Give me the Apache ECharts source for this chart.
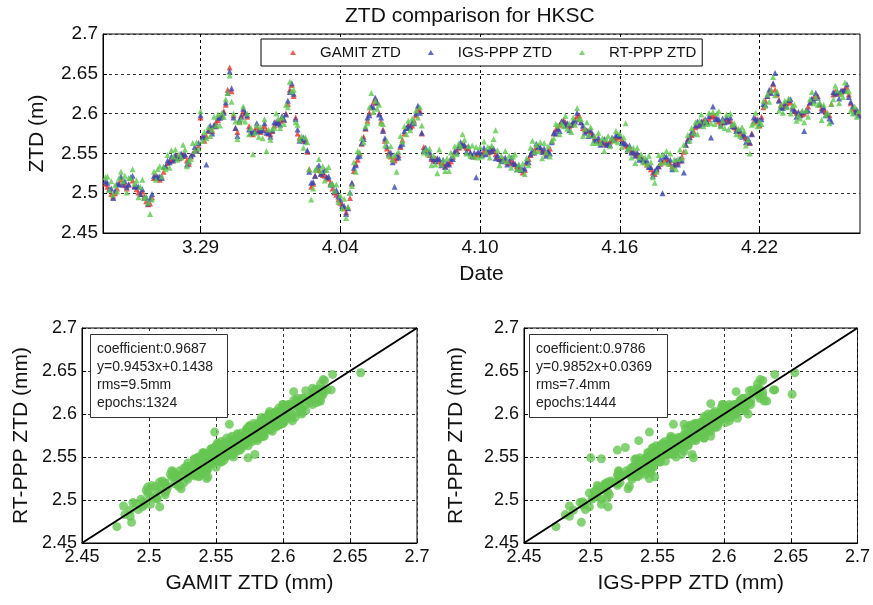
<!DOCTYPE html>
<html><head><meta charset="utf-8">
<script src="https://cdn.jsdelivr.net/npm/echarts@6/dist/echarts.min.js"></script>
<style>html,body{margin:0;padding:0;background:#fff}#c{width:873px;height:605px}</style>
</head><body><div id="c"></div>
<script>
// Epoch grid of the time series: day of year, 2-hour sampling
const epochStart = 83 + 22 / 24;
const epochStep = 1 / 12;

const gamitZTD = [2.512,
2.508,2.505,2.499,2.496,2.500,2.506,2.512,2.517,2.514,2.510,2.506,2.511,
2.519,2.516,2.509,2.505,2.501,2.499,2.502,2.496,2.490,2.486,2.487,2.495,
2.519,2.523,2.519,2.517,2.521,2.527,2.534,2.538,2.540,2.541,2.543,2.546,
2.547,2.544,2.546,2.549,2.547,2.541,2.537,2.546,2.550,2.553,2.555,2.560,
2.595,2.572,2.566,2.572,2.578,2.581,2.578,2.584,2.589,2.592,2.595,2.598,
2.603,2.611,2.630,2.658,2.628,2.598,2.582,2.577,2.590,2.598,2.603,2.600,
2.596,2.584,2.575,2.574,2.580,2.583,2.579,2.577,2.581,2.584,2.579,2.575,
2.574,2.578,2.585,2.590,2.588,2.591,2.594,2.592,2.600,2.612,2.630,2.636,
2.622,2.595,2.575,2.570,2.567,2.566,2.568,2.552,2.530,2.508,2.512,2.522,
2.531,2.529,2.525,2.523,2.522,2.520,2.518,2.513,2.506,2.501,2.498,2.492,
2.488,2.486,2.481,2.476,2.482,2.494,2.512,2.528,2.537,2.542,2.550,2.562,
2.571,2.581,2.591,2.601,2.608,2.614,2.618,2.614,2.600,2.590,2.580,2.566,
2.556,2.551,2.546,2.543,2.541,2.544,2.548,2.558,2.567,2.575,2.582,2.586,
2.584,2.585,2.591,2.598,2.606,2.604,2.575,2.558,2.554,2.552,2.548,2.543,
2.541,2.544,2.543,2.540,2.538,2.537,2.534,2.536,2.538,2.540,2.546,2.552,
2.554,2.557,2.560,2.562,2.559,2.557,2.556,2.550,2.547,2.546,2.549,2.549,
2.548,2.550,2.552,2.553,2.551,2.552,2.556,2.554,2.549,2.545,2.543,2.542,
2.543,2.541,2.539,2.538,2.540,2.539,2.536,2.534,2.532,2.530,2.526,2.529,
2.538,2.543,2.548,2.551,2.554,2.557,2.559,2.556,2.554,2.552,2.550,2.552,
2.556,2.566,2.575,2.580,2.582,2.586,2.590,2.592,2.589,2.586,2.584,2.586,
2.588,2.593,2.597,2.598,2.589,2.582,2.580,2.578,2.578,2.577,2.574,2.570,
2.567,2.566,2.564,2.562,2.563,2.563,2.561,2.565,2.567,2.568,2.569,2.571,
2.571,2.568,2.563,2.560,2.559,2.556,2.553,2.551,2.550,2.548,2.546,2.544,
2.543,2.539,2.536,2.534,2.530,2.526,2.524,2.529,2.534,2.537,2.539,2.542,
2.543,2.541,2.537,2.534,2.535,2.537,2.539,2.541,2.546,2.552,2.561,2.568,
2.571,2.573,2.578,2.583,2.585,2.587,2.589,2.591,2.590,2.590,2.593,2.596,
2.598,2.597,2.593,2.590,2.588,2.589,2.590,2.593,2.592,2.591,2.587,2.583,
2.581,2.578,2.575,2.573,2.572,2.569,2.566,2.563,2.575,2.590,2.594,2.590,
2.585,2.596,2.608,2.616,2.622,2.627,2.630,2.637,2.630,2.624,2.617,2.611,
2.609,2.610,2.613,2.616,2.614,2.609,2.604,2.601,2.600,2.600,2.599,2.600,
2.603,2.609,2.614,2.617,2.620,2.622,2.622,2.611,2.607,2.605,2.602,2.599,
2.598,2.612,2.624,2.628,2.626,2.625,2.627,2.629,2.631,2.633,2.624,2.613,
2.606,2.604,2.602,2.600];

const igsZTD = [2.515,
2.513,2.505,2.506,2.494,2.503,2.512,2.511,2.521,2.511,2.515,2.508,2.511,
2.520,2.522,2.508,2.509,2.508,2.499,2.505,2.494,2.495,2.487,2.493,2.499,
2.522,2.520,2.521,2.521,2.519,2.533,2.534,2.541,2.539,2.546,2.541,2.548,
2.544,2.545,2.550,2.547,2.549,2.536,2.540,2.547,2.549,2.558,2.553,2.563,
2.598,2.570,2.571,2.536,2.579,2.585,2.575,2.586,2.584,2.595,2.595,2.596,
2.601,2.614,2.626,2.653,2.632,2.595,2.582,2.572,2.592,2.596,2.606,2.601,
2.598,2.580,2.576,2.577,2.577,2.588,2.578,2.579,2.579,2.588,2.576,2.576,
2.571,2.579,2.589,2.588,2.590,2.586,2.597,2.593,2.599,2.616,2.627,2.638,
2.625,2.593,2.580,2.566,2.568,2.570,2.565,2.554,2.527,2.513,2.514,2.522,
2.532,2.535,2.524,2.527,2.529,2.520,2.521,2.511,2.511,2.502,2.504,2.496,
2.492,2.484,2.484,2.474,2.481,2.501,2.513,2.532,2.535,2.546,2.547,2.563,
2.568,2.582,2.595,2.598,2.609,2.608,2.620,2.614,2.599,2.595,2.578,2.569,
2.559,2.549,2.551,2.539,2.508,2.548,2.545,2.560,2.562,2.578,2.582,2.584,
2.583,2.589,2.588,2.600,2.610,2.601,2.576,2.554,2.557,2.551,2.552,2.545,
2.543,2.540,2.544,2.543,2.535,2.542,2.533,2.538,2.536,2.544,2.543,2.553,
2.551,2.558,2.564,2.560,2.561,2.552,2.559,2.551,2.546,2.551,2.520,2.552,
2.551,2.548,2.557,2.549,2.552,2.556,2.553,2.556,2.544,2.548,2.543,2.540,
2.542,2.545,2.536,2.540,2.545,2.537,2.537,2.530,2.535,2.529,2.530,2.531,
2.540,2.539,2.549,2.554,2.551,2.562,2.558,2.558,2.552,2.556,2.547,2.553,
2.550,2.564,2.576,2.575,2.581,2.578,2.590,2.590,2.585,2.588,2.579,2.586,
2.590,2.590,2.601,2.593,2.589,2.585,2.576,2.579,2.572,2.579,2.573,2.567,
2.566,2.570,2.561,2.564,2.568,2.561,2.562,2.561,2.570,2.567,2.573,2.573,
2.572,2.563,2.563,2.562,2.555,2.560,2.551,2.552,2.547,2.551,2.542,2.544,
2.541,2.541,2.541,2.533,2.533,2.522,2.528,2.531,2.534,2.543,2.500,2.546,
2.546,2.539,2.542,2.530,2.536,2.541,2.536,2.543,2.541,2.526,2.561,2.566,
2.570,2.577,2.575,2.585,2.590,2.585,2.590,2.587,2.593,2.589,2.597,2.570,
2.609,2.593,2.594,2.593,2.585,2.594,2.589,2.595,2.590,2.595,2.584,2.584,
2.578,2.579,2.579,2.571,2.574,2.564,2.569,2.564,2.574,2.595,2.592,2.593,
2.587,2.593,2.612,2.611,2.622,2.630,2.626,2.638,2.651,2.626,2.616,2.608,
2.607,2.613,2.609,2.617,2.618,2.606,2.604,2.596,2.602,2.598,2.602,2.578,
2.604,2.604,2.614,2.619,2.616,2.626,2.620,2.612,2.604,2.608,2.598,2.599,
2.594,2.590,2.627,2.625,2.627,2.619,2.629,2.629,2.629,2.637,2.621,2.615,
2.609,2.601,2.605,2.598];

const rtZTD = [2.520,
2.521,2.504,2.515,2.498,2.510,2.502,2.519,2.527,2.515,2.522,2.501,2.519,
2.519,2.530,2.512,2.516,2.495,2.508,2.517,2.494,2.496,2.488,2.474,2.492,
2.527,2.517,2.530,2.534,2.521,2.533,2.530,2.548,2.532,2.554,2.546,2.555,
2.542,2.549,2.545,2.561,2.555,2.534,2.540,2.543,2.563,2.553,2.564,2.556,
2.603,2.566,2.577,2.569,2.583,2.572,2.580,2.596,2.585,2.599,2.585,2.601,
2.596,2.618,2.626,2.648,2.615,2.600,2.590,2.568,2.589,2.593,2.609,2.590,
2.600,2.574,2.582,2.549,2.576,2.585,2.571,2.583,2.569,2.593,2.553,2.580,
2.567,2.581,2.582,2.600,2.594,2.582,2.595,2.587,2.611,2.608,2.640,2.628,
2.630,2.589,2.586,2.567,2.572,2.557,2.570,2.564,2.530,2.492,2.506,2.529,
2.531,2.543,2.528,2.534,2.516,2.529,2.533,2.511,2.512,2.503,2.511,2.489,
2.497,2.481,2.493,2.469,2.483,2.501,2.509,2.539,2.527,2.553,2.551,2.569,
2.564,2.584,2.588,2.608,2.626,2.602,2.616,2.606,2.611,2.588,2.587,2.560,
2.566,2.547,2.559,2.542,2.548,2.527,2.552,2.572,2.565,2.584,2.574,2.591,
2.579,2.594,2.589,2.604,2.595,2.608,2.585,2.551,2.555,2.549,2.556,2.535,
2.547,2.536,2.525,2.555,2.536,2.541,2.528,2.544,2.528,2.551,2.547,2.559,
2.549,2.562,2.559,2.574,2.567,2.550,2.559,2.547,2.560,2.546,2.558,2.545,
2.558,2.546,2.565,2.552,2.558,2.545,2.560,2.568,2.579,2.554,2.535,2.547,
2.541,2.553,2.540,2.547,2.532,2.546,2.549,2.530,2.536,2.530,2.537,2.524,
2.544,2.535,2.557,2.566,2.552,2.561,2.553,2.564,2.544,2.563,2.551,2.559,
2.546,2.566,2.569,2.587,2.585,2.574,2.588,2.584,2.597,2.581,2.588,2.577,
2.595,2.586,2.607,2.594,2.593,2.572,2.581,2.589,2.573,2.583,2.563,2.572,
2.563,2.576,2.563,2.569,2.553,2.568,2.572,2.559,2.569,2.566,2.578,2.564,
2.575,2.558,2.570,2.588,2.555,2.558,2.545,2.557,2.538,2.557,2.545,2.549,
2.539,2.545,2.536,2.547,2.539,2.520,2.513,2.527,2.548,2.538,2.549,2.539,
2.553,2.537,2.550,2.533,2.542,2.530,2.543,2.555,2.544,2.561,2.553,2.573,
2.566,2.582,2.576,2.589,2.574,2.591,2.599,2.584,2.591,2.587,2.601,2.588,
2.602,2.587,2.600,2.603,2.584,2.591,2.582,2.599,2.580,2.600,2.586,2.588,
2.574,2.581,2.572,2.583,2.578,2.560,2.567,2.550,2.586,2.588,2.601,2.584,
2.590,2.587,2.616,2.610,2.624,2.615,2.629,2.646,2.623,2.628,2.604,2.611,
2.601,2.616,2.608,2.619,2.600,2.610,2.611,2.591,2.598,2.594,2.604,2.589,
2.604,2.596,2.618,2.627,2.613,2.621,2.611,2.614,2.592,2.611,2.598,2.601,
2.588,2.612,2.618,2.635,2.629,2.613,2.625,2.621,2.639,2.628,2.628,2.604,
2.600,2.609,2.596,2.603];

const seriesNames = ['GAMIT ZTD', 'IGS-PPP ZTD', 'RT-PPP ZTD'];
const dateTickValues = [88, 94, 100, 106, 112];
const dateTickLabels = ['3.29', '4.04', '4.10', '4.16', '4.22'];
const ztdMin = 2.45, ztdMax = 2.7, ztdStep = 0.05;
const statsLeft = ['coefficient:0.9687', 'y=0.9453x+0.1438', 'rms=9.5mm', 'epochs:1324'];
const statsRight = ['coefficient:0.9786', 'y=0.9852x+0.0369', 'rms=7.4mm', 'epochs:1444'];
const diagLine = [[2.45, 2.45], [2.7, 2.7]];

const FONT = '"Liberation Sans", Arial, Helvetica, sans-serif';
const times = gamitZTD.map((_, i) => epochStart + i * epochStep);
const ts = arr => arr.map((v, i) => [times[i], v]);
const pairs = (a, b) => a.map((v, i) => [v, b[i]]);

const dash = { type: [3, 3], color: '#333', width: 1 };
const axisLineBlack = { show: true, lineStyle: { color: '#000', width: 1 } };

function valAxis(grid, name, gap, labelSize) {
  return {
    type: 'value', gridIndex: grid, min: ztdMin, max: ztdMax, interval: ztdStep,
    name: name, nameLocation: 'middle', nameGap: gap,
    nameTextStyle: { fontSize: 21, color: '#111', fontFamily: FONT },
    axisLine: axisLineBlack,
    axisTick: { show: true, inside: true, length: 4, lineStyle: { color: '#000' } },
    axisLabel: { fontSize: labelSize, color: '#111', fontFamily: FONT, margin: 5 },
    splitLine: { show: true, lineStyle: dash }
  };
}

const option = {
  animation: false,
  backgroundColor: '#fff',
  textStyle: { fontFamily: FONT },
  title: {
    text: 'ZTD comparison for HKSC', left: 340, top: 1,
    textStyle: { fontSize: 21, fontWeight: 'normal', color: '#111', fontFamily: FONT }
  },
  legend: {
    data: seriesNames, left: 261, top: 39,
    icon: 'triangle', itemWidth: 6, itemHeight: 5, itemGap: 27,
    padding: [6, 6, 6, 29],
    backgroundColor: '#fff', borderColor: '#000', borderWidth: 1,
    textStyle: { fontSize: 15, color: '#111', fontFamily: FONT, padding: [0, 0, 0, 19] }
  },
  grid: [
    { left: 103, top: 34, width: 757, height: 199, show: true, borderColor: '#000', borderWidth: 1 },
    { left: 82, top: 328, width: 335, height: 215, show: true, borderColor: '#000', borderWidth: 1 },
    { left: 524, top: 328, width: 337, height: 215, show: true, borderColor: '#000', borderWidth: 1 }
  ],
  xAxis: [
    {
      type: 'value', gridIndex: 0, min: 83.8125, max: 116.3125,
      name: 'Date', nameLocation: 'middle', nameGap: 31,
      nameTextStyle: { fontSize: 21, color: '#111', fontFamily: FONT },
      axisLine: axisLineBlack,
      axisTick: { show: true, inside: true, length: 4, customValues: dateTickValues, lineStyle: { color: '#000' } },
      axisLabel: {
        fontSize: 19, color: '#111', fontFamily: FONT, margin: 5,
        customValues: dateTickValues,
        formatter: v => { const k = dateTickValues.findIndex(t => Math.abs(t - v) < 1e-6); return k >= 0 ? dateTickLabels[k] : ''; }
      },
      splitLine: { show: true, lineStyle: { type: [3, 3], color: '#000', width: 1 } }
    },
    valAxis(1, 'GAMIT ZTD (mm)', 30, 18),
    valAxis(2, 'IGS-PPP ZTD (mm)', 30, 18)
  ],
  yAxis: [
    valAxis(0, 'ZTD (m)', 55, 19),
    valAxis(1, 'RT-PPP ZTD (mm)', 50, 18),
    valAxis(2, 'RT-PPP ZTD (mm)', 57, 18)
  ],
  series: [
    { name: seriesNames[0], type: 'scatter', xAxisIndex: 0, yAxisIndex: 0, data: ts(gamitZTD),
      symbol: 'triangle', symbolSize: 6, itemStyle: { color: '#e8322b' } },
    { name: seriesNames[1], type: 'scatter', xAxisIndex: 0, yAxisIndex: 0, data: ts(igsZTD),
      symbol: 'triangle', symbolSize: 6, itemStyle: { color: '#3446b0' } },
    { name: seriesNames[2], type: 'scatter', xAxisIndex: 0, yAxisIndex: 0, data: ts(rtZTD),
      symbol: 'triangle', symbolSize: 6, itemStyle: { color: '#5ec94e' } },
    { type: 'scatter', xAxisIndex: 1, yAxisIndex: 1, data: pairs(gamitZTD, rtZTD),
      symbol: 'circle', symbolSize: 9, itemStyle: { color: '#66c653' } },
    { type: 'line', xAxisIndex: 1, yAxisIndex: 1, data: diagLine, symbol: 'none',
      lineStyle: { color: '#000', width: 2 }, z: 5 },
    { type: 'scatter', xAxisIndex: 2, yAxisIndex: 2, data: pairs(igsZTD, rtZTD),
      symbol: 'circle', symbolSize: 9, itemStyle: { color: '#66c653' } },
    { type: 'line', xAxisIndex: 2, yAxisIndex: 2, data: diagLine, symbol: 'none',
      lineStyle: { color: '#000', width: 2 }, z: 5 }
  ],
  graphic: [
    { type: 'rect', left: 90, top: 334, z: 100, shape: { width: 137, height: 83 },
      style: { fill: '#fff', stroke: '#333', lineWidth: 1 } },
    { type: 'text', left: 97, top: 340, z: 101,
      style: { text: statsLeft.join('\n'), fontSize: 14, lineHeight: 18, fontFamily: FONT, fill: '#222' } },
    { type: 'rect', left: 529, top: 334, z: 100, shape: { width: 138, height: 83 },
      style: { fill: '#fff', stroke: '#333', lineWidth: 1 } },
    { type: 'text', left: 536, top: 340, z: 101,
      style: { text: statsRight.join('\n'), fontSize: 14, lineHeight: 18, fontFamily: FONT, fill: '#222' } }
  ]
};

echarts.init(document.getElementById('c'), null, { renderer: 'canvas' }).setOption(option);
</script>
</body></html>
